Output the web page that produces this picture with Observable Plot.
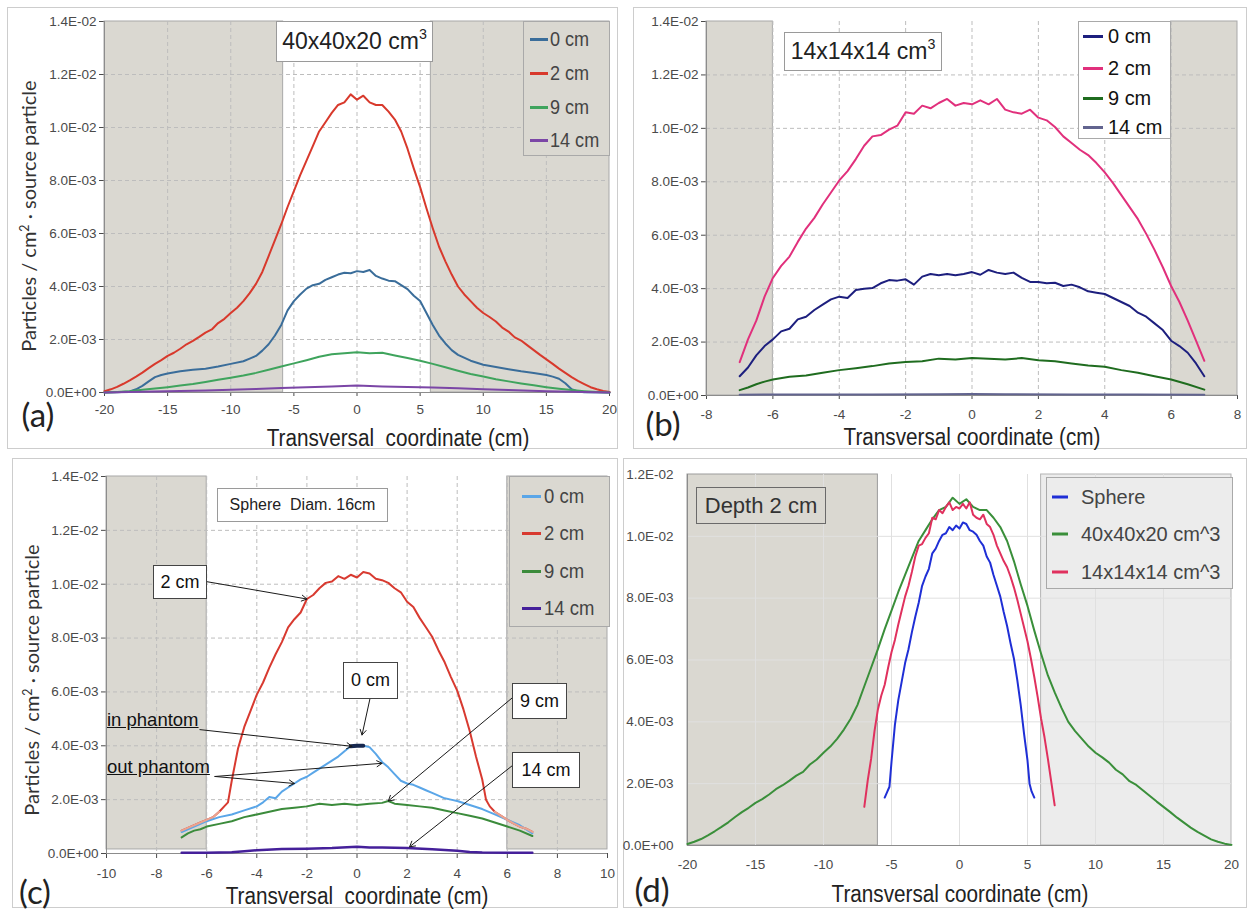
<!DOCTYPE html>
<html><head><meta charset="utf-8">
<script src="https://cdn.jsdelivr.net/npm/d3@7"></script>
<script src="https://cdn.jsdelivr.net/npm/@observablehq/plot@0.6"></script>
<style>
html,body{margin:0;padding:0;background:#fff;}
#wrap{position:relative;width:1250px;height:909px;overflow:hidden;background:#fff;}
#wrap svg text{font-size:13.5px;font-family:'Liberation Sans',Arial,sans-serif;fill:#4a4a4a;}
.abs{position:absolute;box-sizing:border-box;}
.pb{border:1px solid #cdcdcd;}
.nar{font-family:'Liberation Sans Narrow','Arial Narrow','Liberation Sans',Arial,sans-serif;}
.reg{font-family:'Liberation Sans',Arial,sans-serif;}
.cal{font-family:Lato,'Open Sans',sans-serif;}
.leg{border:1px solid #a9a9a9;}
.row{position:absolute;display:flex;align-items:center;white-space:nowrap;transform:translateY(-50%);}
.sw{display:inline-block;height:3px;flex:none;}
.tx{display:inline-block;transform-origin:0 50%;}
.box{display:flex;align-items:center;justify-content:center;white-space:nowrap;color:#222;}
.ctr{transform:translate(-50%,-50%);white-space:nowrap;line-height:1;}
.ctrn{transform:translate(-50%,-50%) scaleX(0.9);white-space:nowrap;line-height:1;}
.ylab{transform:translate(-50%,-50%) rotate(-90deg);white-space:nowrap;line-height:1;}
.sp{font-size:0.62em;position:relative;top:-0.55em;}
</style></head><body><div id="wrap"></div>
<script>
// ---------- DATA (values in units of 1E-03 particles / cm² · source particle) ----------
const cube40_0cm = [[-20,0.0],[-19,0.01],[-18,0.04],[-17.5,0.12],[-17,0.25],[-16.5,0.42],[-16,0.58],[-15.5,0.66],[-15,0.72],[-14,0.8],[-13,0.86],[-12,0.9],[-11,0.98],[-10,1.08],[-9,1.18],[-8.5,1.28],[-8,1.38],[-7.5,1.58],[-7,1.82],[-6.5,2.15],[-6,2.55],[-5.5,3.1],[-5,3.45],[-4.5,3.7],[-4,3.92],[-3.5,4.05],[-3,4.1],[-2.5,4.25],[-2,4.35],[-1.5,4.45],[-1,4.52],[-0.5,4.5],[0,4.58],[0.5,4.55],[1,4.62],[1.5,4.4],[2,4.3],[2.5,4.22],[3,4.2],[3.5,4.05],[4,3.9],[4.5,3.65],[5,3.45],[5.5,3.0],[6,2.55],[6.5,2.15],[7,1.85],[7.5,1.6],[8,1.42],[9,1.2],[10,1.05],[11,0.96],[12,0.88],[13,0.8],[14,0.74],[15,0.66],[15.5,0.6],[16,0.52],[16.5,0.35],[17,0.12],[17.5,0.04],[18,0.01],[20,0.0]];
const cube40_2cm = [[-20,0.05],[-19.5,0.12],[-19,0.21],[-18.5,0.33],[-18,0.46],[-17.5,0.6],[-17,0.75],[-16.5,0.92],[-16,1.08],[-15.5,1.22],[-15,1.38],[-14.5,1.5],[-14,1.65],[-13.5,1.82],[-13,1.95],[-12.5,2.1],[-12,2.26],[-11.5,2.38],[-11,2.62],[-10.5,2.78],[-10,3.0],[-9.5,3.2],[-9,3.45],[-8.5,3.75],[-8,4.1],[-7.5,4.55],[-7,5.15],[-6.5,5.75],[-6,6.35],[-5.5,7.0],[-5,7.6],[-4.5,8.2],[-4,8.75],[-3.5,9.3],[-3,9.85],[-2.5,10.2],[-2,10.55],[-1.5,10.85],[-1,10.95],[-0.5,11.25],[0,11.05],[0.5,11.2],[1,10.95],[1.5,10.85],[2,10.85],[2.5,10.6],[3,10.3],[3.5,9.85],[4,9.2],[4.5,8.45],[5,7.75],[5.5,6.95],[6,6.2],[6.5,5.5],[7,4.95],[7.5,4.45],[8,4.0],[8.5,3.7],[9,3.45],[9.5,3.2],[10,3.0],[10.5,2.85],[11,2.68],[11.5,2.45],[12,2.3],[12.5,2.08],[13,1.96],[13.5,1.78],[14,1.6],[14.5,1.42],[15,1.25],[15.5,1.08],[16,0.9],[16.5,0.74],[17,0.58],[17.5,0.44],[18,0.32],[18.5,0.2],[19,0.12],[19.5,0.06],[20,0.02]];
const cube40_9cm = [[-20,0.0],[-19,0.02],[-18,0.05],[-17,0.1],[-16,0.15],[-15,0.2],[-14,0.26],[-13,0.32],[-12,0.4],[-11,0.48],[-10,0.56],[-9,0.64],[-8,0.74],[-7,0.86],[-6,0.98],[-5,1.1],[-4,1.22],[-3,1.35],[-2,1.44],[-1,1.48],[0,1.52],[1,1.48],[2,1.5],[3,1.4],[4,1.3],[5,1.2],[6,1.08],[7,0.95],[8,0.82],[9,0.7],[10,0.6],[11,0.5],[12,0.42],[13,0.34],[14,0.27],[15,0.2],[16,0.14],[17,0.09],[18,0.05],[19,0.02],[20,0.0]];
const cube40_14cm = [[-20,0],[-18,0.02],[-15,0.05],[-12,0.08],[-10,0.1],[-8,0.13],[-6,0.17],[-4,0.2],[-2,0.23],[0,0.26],[2,0.23],[4,0.21],[6,0.19],[8,0.16],[10,0.12],[12,0.09],[15,0.05],[18,0.02],[20,0]];

const cube14_0cm = [[-7,0.72],[-6.75,1.05],[-6.5,1.5],[-6.25,1.85],[-6,2.1],[-5.75,2.4],[-5.5,2.5],[-5.25,2.85],[-5,2.95],[-4.75,3.2],[-4.5,3.4],[-4.25,3.6],[-4,3.7],[-3.75,3.65],[-3.5,3.95],[-3.25,4.0],[-3,4.02],[-2.75,4.2],[-2.5,4.32],[-2.25,4.3],[-2,4.35],[-1.75,4.15],[-1.5,4.45],[-1.25,4.55],[-1,4.5],[-0.75,4.55],[-0.5,4.5],[-0.25,4.55],[0,4.62],[0.25,4.52],[0.5,4.7],[0.75,4.6],[1,4.55],[1.25,4.6],[1.5,4.4],[1.75,4.25],[2,4.25],[2.25,4.2],[2.5,4.22],[2.75,4.1],[3,4.15],[3.25,4.05],[3.5,3.9],[3.75,3.85],[4,3.8],[4.25,3.65],[4.5,3.5],[4.75,3.35],[5,3.1],[5.25,2.95],[5.5,2.7],[5.75,2.45],[6,2.05],[6.25,1.85],[6.5,1.6],[6.75,1.2],[7,0.72]];
const cube14_2cm = [[-7,1.25],[-6.75,2.1],[-6.5,2.8],[-6.25,3.7],[-6,4.4],[-5.75,4.85],[-5.5,5.2],[-5.25,5.75],[-5,6.25],[-4.75,6.65],[-4.5,7.15],[-4.25,7.6],[-4,8.05],[-3.75,8.4],[-3.5,8.85],[-3.25,9.35],[-3,9.7],[-2.75,9.75],[-2.5,9.95],[-2.25,10.1],[-2,10.6],[-1.75,10.55],[-1.5,10.85],[-1.25,10.75],[-1,10.95],[-0.75,11.1],[-0.5,10.85],[-0.25,10.95],[0,10.9],[0.25,11.05],[0.5,10.9],[0.75,11.1],[1,10.7],[1.25,10.6],[1.5,10.55],[1.75,10.7],[2,10.4],[2.25,10.3],[2.5,10.05],[2.75,9.7],[3,9.45],[3.25,9.2],[3.5,9.0],[3.75,8.7],[4,8.35],[4.25,7.95],[4.5,7.5],[4.75,7.05],[5,6.6],[5.25,6.05],[5.5,5.45],[5.75,4.8],[6,4.1],[6.25,3.5],[6.5,2.8],[6.75,2.05],[7,1.3]];
const cube14_9cm = [[-7,0.2],[-6.75,0.3],[-6.5,0.42],[-6.25,0.52],[-6,0.6],[-5.5,0.7],[-5,0.75],[-4.5,0.85],[-4,0.95],[-3.5,1.02],[-3,1.1],[-2.5,1.2],[-2,1.25],[-1.5,1.28],[-1,1.38],[-0.5,1.35],[0,1.4],[0.5,1.38],[1,1.35],[1.5,1.4],[2,1.32],[2.5,1.28],[3,1.2],[3.5,1.12],[4,1.08],[4.5,0.95],[5,0.85],[5.5,0.72],[6,0.6],[6.5,0.42],[7,0.22]];
const cube14_14cm = [[-7,0.03],[-5,0.04],[-3,0.04],[-1,0.05],[0,0.06],[1,0.05],[3,0.04],[5,0.04],[7,0.03]];

const sphere_0cm = [[-7,0.8],[-6.75,0.9],[-6.5,1.0],[-6.25,1.1],[-6,1.2],[-5.5,1.35],[-5,1.45],[-4.5,1.6],[-4,1.75],[-3.75,1.9],[-3.5,2.1],[-3.25,2.05],[-3,2.3],[-2.75,2.45],[-2.5,2.6],[-2.25,2.75],[-2,2.85],[-1.75,3.0],[-1.5,3.15],[-1.25,3.3],[-1,3.45],[-0.75,3.6],[-0.5,3.8],[-0.25,3.98],[0,4.0],[0.25,4.0],[0.5,3.95],[0.75,3.7],[1,3.4],[1.25,3.2],[1.5,2.95],[1.75,2.7],[2,2.6],[2.25,2.55],[2.5,2.45],[2.75,2.35],[3,2.25],[3.25,2.15],[3.5,2.05],[3.75,2.0],[4,1.95],[4.5,1.8],[5,1.65],[5.5,1.45],[6,1.25],[6.5,1.05],[7,0.75]];
const sphere_2cm = [[-7,0.85],[-6.75,0.95],[-6.5,1.05],[-6.25,1.15],[-6,1.25],[-5.75,1.35],[-5.5,1.55],[-5.3,1.75],[-5.15,1.9],[-5,2.7],[-4.75,3.9],[-4.5,4.7],[-4.25,5.3],[-4,5.9],[-3.75,6.35],[-3.5,6.9],[-3.25,7.4],[-3,7.85],[-2.75,8.4],[-2.5,8.7],[-2.25,8.95],[-2,9.45],[-1.75,9.6],[-1.5,9.85],[-1.25,10.05],[-1,10.1],[-0.75,10.3],[-0.5,10.2],[-0.25,10.35],[0,10.25],[0.25,10.45],[0.5,10.4],[0.75,10.2],[1,10.15],[1.25,10.05],[1.5,9.85],[1.75,9.7],[2,9.35],[2.25,9.15],[2.5,8.75],[2.75,8.4],[3,8.05],[3.25,7.55],[3.5,7.1],[3.75,6.55],[4,6.05],[4.25,5.35],[4.5,4.55],[4.75,3.6],[5,2.75],[5.15,2.0],[5.3,1.75],[5.5,1.55],[5.75,1.4],[6,1.25],[6.25,1.12],[6.5,1.0],[6.75,0.92],[7,0.8]];
const sphere_9cm = [[-7,0.6],[-6.75,0.75],[-6.5,0.85],[-6.25,0.9],[-6,1.0],[-5.5,1.1],[-5,1.2],[-4.5,1.35],[-4,1.45],[-3.5,1.55],[-3,1.65],[-2.5,1.7],[-2,1.75],[-1.5,1.85],[-1,1.8],[-0.5,1.85],[0,1.8],[0.5,1.85],[1,1.88],[1.25,1.95],[1.5,1.85],[2,1.8],[2.5,1.75],[3,1.7],[3.5,1.6],[4,1.5],[4.5,1.4],[5,1.3],[5.5,1.15],[6,1.0],[6.5,0.85],[7,0.65]];
const sphere_14cm = [[-7,0.03],[-6,0.03],[-5,0.05],[-4.5,0.08],[-4,0.12],[-3,0.17],[-2,0.18],[-1,0.2],[0,0.25],[0.5,0.22],[1,0.22],[2,0.2],[3,0.16],[4,0.1],[4.5,0.06],[5,0.04],[6,0.03],[7,0.03]];

const depthLabels = ["0 cm","2 cm","9 cm","14 cm"];
const phantomLabels = ["Sphere","40x40x20 cm^3","14x14x14 cm^3"];
const xTicks20 = [-20,-15,-10,-5,0,5,10,15,20];
const xTicks8 = [-8,-6,-4,-2,0,2,4,6,8];
const xTicks10 = [-10,-8,-6,-4,-2,0,2,4,6,8,10];
const yTicks14 = [0,2,4,6,8,10,12,14].map(v=>v*1e-3);
const yTicks12 = [0,2,4,6,8,10,12].map(v=>v*1e-3);
const sphereRadius = 5.5;
const inPhantomRange = [-0.25,0.25];

// ---------- helpers ----------
const wrap = document.getElementById("wrap");
const fmtE = d => { const [m,e] = d.toExponential(1).split("e"); const n=+e; return m+"E"+(n<0?"-":"+")+String(Math.abs(n)).padStart(2,"0"); };
const rows = pts => pts.map(([x,v]) => ({x, y: v*1e-3}));
const at = (pts, x) => { const p = pts.find(q => q[0]===x); return [p[0], p[1]]; };
function add(html, cls, style){ const d=document.createElement("div"); d.className="abs "+(cls||""); Object.assign(d.style, style); d.innerHTML=html; wrap.appendChild(d); return d; }

function panel(o){
  const marks = [];
  for (const s of o.shades) marks.push(Plot.rect([s], {x1:"x1",x2:"x2",y1:"y1",y2:"y2",fill:s.fill,stroke:s.stroke,strokeWidth:1}));
  const inner = o.xt.filter(t=>t>o.xd[0] && t<o.xd[1]);
  marks.push(Plot.ruleX(inner, {stroke:o.gridColor, strokeWidth:1, strokeDasharray:o.dash}));
  marks.push(Plot.ruleY(o.yt.filter(t=>t>0 && t<o.yd[1]), {stroke:o.gridColor, strokeWidth:1, strokeDasharray:o.dash}));
  marks.push(Plot.ruleX([o.xd[0]], {stroke:"#8c8c8c"}));
  marks.push(Plot.ruleY([0], {stroke:"#8c8c8c"}));
  for (const s of o.series) marks.push(Plot.line(rows(s.pts), {x:"x", y:"y", stroke:s.color, strokeWidth:s.sw||2, strokeLinejoin:"round"}));
  if (o.extra) marks.push(...o.extra);
  const svg = Plot.plot({
    width:o.w, height:o.h, marginLeft:o.ml, marginRight:o.mr, marginTop:o.mt, marginBottom:o.mb,
    style:{background:"transparent", fontFamily:"'Liberation Sans',Arial,sans-serif", fontSize:"13.5px", color:"#4a4a4a", overflow:"visible"},
    x:{domain:o.xd, ticks:o.xt, tickFormat:d=>String(d), tickSize:o.xtick, tickPadding:o.xpad, label:null, line:false},
    y:{domain:o.yd, ticks:o.yt, tickFormat:fmtE, tickSize:o.ytick, tickPadding:o.ypad, label:null, line:false},
    marks
  });
  svg.style.position="absolute"; svg.style.left=o.left+"px"; svg.style.top=o.top+"px";
  wrap.appendChild(svg);
}
function legend(box, items, font){
  const L = add("", "leg", {left:box.x+"px", top:box.y+"px", width:box.w+"px", height:box.h+"px", background:box.bg, borderColor:box.bc||"#a9a9a9"});
  items.forEach((it,i)=>{
    const r=document.createElement("div"); r.className="row "+font.cls;
    r.style.left=box.lx+"px"; r.style.top=box.rows[i]+"px"; r.style.fontSize=font.size; r.style.color=font.color;
    r.innerHTML=`<span class="sw" style="width:${box.sw}px;background:${it.color};margin-right:${box.gap}px"></span><span class="tx" style="transform:scaleX(${font.sx||1})">${it.label}</span>`;
    L.appendChild(r);
  });
}

// ---------- panel frames ----------
add("", "pb", {left:"7px", top:"7px", width:"611px", height:"442px"});
add("", "pb", {left:"633px", top:"7px", width:"614px", height:"442px"});
add("", "pb", {left:"12px", top:"458px", width:"606px", height:"450px"});
add("", "pb", {left:"623px", top:"458px", width:"624px", height:"450px"});

const GRAY="#dad8d1";

// ---------- (a) 40x40x20 ----------
const colA=["#3a6d9a","#d8392c","#3fa45d","#7b46a6"];
panel({left:0, top:0, w:620, h:455, ml:104, mr:11, mt:21, mb:63,
  xd:[-20,20], yd:[0,0.014], xt:xTicks20, yt:yTicks14, xtick:4, xpad:8, ytick:5, ypad:3,
  gridColor:"#bdbdbd", dash:"4,3",
  shades:[{x1:-20,x2:-5.85,y1:0,y2:0.014,fill:GRAY,stroke:"#a8a8a8"},{x1:5.85,x2:20,y1:0,y2:0.014,fill:GRAY,stroke:"#a8a8a8"}],
  series:[{pts:cube40_0cm,color:colA[0]},{pts:cube40_2cm,color:colA[1]},{pts:cube40_9cm,color:colA[2]},{pts:cube40_14cm,color:colA[3]}]
});
add("40x40x20 cm<span class='sp'>3</span>", "box nar", {left:"276px", top:"21px", width:"157px", height:"41px", background:"#fff", border:"1px solid #9a9a9a", fontSize:"23px"});
legend({x:523,y:21,w:87,h:135,bg:GRAY,lx:6,rows:[17,51,85,118],sw:18,gap:2}, depthLabels.map((l,i)=>({label:l,color:colA[i]})), {cls:"nar",size:"21px",color:"#444",sx:0.86});

// ---------- (b) 14x14x14 ----------
const colB=["#1d1f7e","#e1307c","#1f6c1f","#62648f"];
panel({left:620, top:0, w:630, h:455, ml:86, mr:13, mt:21, mb:60,
  xd:[-8,8], yd:[0,0.014], xt:xTicks8, yt:yTicks14, xtick:4, xpad:10, ytick:5, ypad:3,
  gridColor:"#bdbdbd", dash:"4,3",
  shades:[{x1:-8,x2:-6,y1:0,y2:0.014,fill:GRAY,stroke:"#a8a8a8"},{x1:6,x2:8,y1:0,y2:0.014,fill:GRAY,stroke:"#a8a8a8"}],
  series:[{pts:cube14_0cm,color:colB[0]},{pts:cube14_2cm,color:colB[1]},{pts:cube14_9cm,color:colB[2]},{pts:cube14_14cm,color:colB[3]}]
});
add("14x14x14 cm<span class='sp'>3</span>", "box nar", {left:"784px", top:"32px", width:"158px", height:"39px", background:"#fff", border:"1px solid #9a9a9a", fontSize:"23px"});
legend({x:1078,y:21,w:93,h:118,bg:"#fff",lx:4,rows:[14,46,76,105],sw:20,gap:5}, depthLabels.map((l,i)=>({label:l,color:colB[i]})), {cls:"reg",size:"21px",color:"#111",sx:0.95});

// ---------- (c) Sphere ----------
const colC=["#5aa6e8","#d83a30","#3b8b3b","#45209a"];
const tipsC = {
  c2: at(sphere_2cm,-2), c9: at(sphere_9cm,1.25), c14: at(sphere_14cm,2), in0: at(sphere_0cm,-0.25), out1: at(sphere_0cm,1), out2: at(sphere_0cm,-2.5)
};
const arrowsC = [
  {x1:-6.03,y1:10.1,x2:tipsC.c2[0],y2:tipsC.c2[1]},
  {x1:0.52,y1:5.76,x2:0.2,y2:4.4},
  {x1:6.21,y1:5.79,x2:tipsC.c9[0],y2:tipsC.c9[1]},
  {x1:6.21,y1:3.27,x2:tipsC.c14[0]+0.1,y2:tipsC.c14[1]+0.05},
  {x1:-6.27,y1:4.6,x2:tipsC.in0[0]+0.05,y2:tipsC.in0[1]},
  {x1:-5.67,y1:2.86,x2:tipsC.out1[0],y2:tipsC.out1[1]-0.05},
  {x1:-5.67,y1:2.86,x2:tipsC.out2[0],y2:tipsC.out2[1]}
].map(d=>({x1:d.x1,y1:d.y1*1e-3,x2:d.x2,y2:d.y2*1e-3}));
const sideRed = rows(sphere_2cm).map(d=>({...d, side: d.x<=-sphereRadius ? "L" : d.x>=sphereRadius ? "R" : null})).filter(d=>d.side);
const inSeg = rows(sphere_0cm.filter(p=>p[0]>=inPhantomRange[0] && p[0]<=inPhantomRange[1]));
panel({left:0, top:455, w:620, h:454, ml:106, mr:13, mt:21, mb:56,
  xd:[-10,10], yd:[0,0.014], xt:xTicks10, yt:yTicks14, xtick:5, xpad:10, ytick:5, ypad:3,
  gridColor:"#bdbdbd", dash:"4,3",
  shades:[{x1:-10,x2:-6,y1:0.00015,y2:0.014,fill:GRAY,stroke:"#a8a8a8"},{x1:6,x2:10,y1:0.00015,y2:0.014,fill:GRAY,stroke:"#a8a8a8"}],
  series:[{pts:sphere_2cm,color:colC[1]},{pts:sphere_0cm,color:colC[0]},{pts:sphere_9cm,color:colC[2]},{pts:sphere_14cm,color:colC[3],sw:2.5}],
  extra:[
    Plot.line(sideRed, {x:"x", y:"y", z:"side", stroke:"#eba38f", strokeWidth:2}),
    Plot.line(inSeg, {x:"x", y:"y", stroke:"#17284f", strokeWidth:4}),
    Plot.arrow(arrowsC, {x1:"x1", y1:"y1", x2:"x2", y2:"y2", stroke:"#1a1a1a", strokeWidth:1, headLength:9})
  ]
});
add("Sphere&nbsp; Diam. 16cm", "box nar", {left:"217px", top:"488px", width:"171px", height:"34px", background:"#fff", border:"1px solid #9a9a9a", fontSize:"16px"});
legend({x:509,y:476,w:101,h:151,bg:GRAY,lx:12,rows:[19,56,94,131],sw:19,gap:3}, depthLabels.map((l,i)=>({label:l,color:colC[i]})), {cls:"nar",size:"21px",color:"#444",sx:0.88});
const annBox = {background:"#fff", border:"1px solid #444", fontSize:"18px", color:"#111"};
add("2 cm", "box nar", {...annBox, left:"153px", top:"565px", width:"54px", height:"34px"});
add("0 cm", "box nar", {...annBox, left:"343px", top:"662px", width:"55px", height:"37px"});
add("9 cm", "box nar", {...annBox, left:"512px", top:"683px", width:"55px", height:"36px"});
add("14 cm", "box nar", {...annBox, left:"512px", top:"752px", width:"68px", height:"36px"});
add("in phantom", "nar", {left:"107px", top:"709px", fontSize:"18.5px", color:"#111", textDecoration:"underline", whiteSpace:"nowrap"});
add("out phantom", "nar", {left:"107px", top:"756px", fontSize:"18.5px", color:"#111", textDecoration:"underline", whiteSpace:"nowrap"});

// ---------- (d) Depth 2 cm ----------
const colD=["#1f2fd6","#3a8f3a","#e0315e"];
panel({left:620, top:455, w:630, h:454, ml:67, mr:19, mt:19, mb:64,
  xd:[-20,20], yd:[0,0.012], xt:xTicks20, yt:yTicks12, xtick:0, xpad:14, ytick:0, ypad:14,
  gridColor:"#e0e0e0", dash:null,
  shades:[{x1:-20,x2:-6,y1:0,y2:0.012,fill:GRAY,stroke:"#9c9c9c"},{x1:6,x2:20,y1:0,y2:0.012,fill:"#ececec",stroke:"#b4b4b4"}],
  series:[{pts:cube40_2cm,color:colD[1]},{pts:cube14_2cm,color:colD[2]},{pts:sphere_2cm.filter(p=>Math.abs(p[0])<=sphereRadius),color:colD[0]}]
});
add("Depth 2 cm", "box reg", {left:"696px", top:"487px", width:"130px", height:"37px", background:GRAY, border:"1px solid #6a6a6a", fontSize:"22px", color:"#333"});
legend({x:1046,y:477,w:187,h:112,bg:"#ececec",lx:5,rows:[19,56,94],sw:16,gap:13}, phantomLabels.map((l,i)=>({label:l,color:colD[i]})), {cls:"reg",size:"20px",color:"#444"});

// ---------- axis titles & panel letters ----------
const xt = {fontSize:"23px", color:"#222"};
add("Transversal&nbsp; coordinate (cm)", "nar ctrn", {...xt, left:"398px", top:"438px"});
add("Transversal coordinate (cm)", "nar ctrn", {...xt, left:"972px", top:"437px"});
add("Transversal&nbsp; coordinate (cm)", "nar ctrn", {...xt, left:"357px", top:"896px"});
add("Transversal coordinate (cm)", "nar ctrn", {...xt, left:"960px", top:"894px"});
const yl = {fontSize:"20px", color:"#333"};
add("Particles / cm<span class='sp'>2</span> · source particle", "cal ylab", {...yl, left:"28px", top:"216px"});
add("Particles / cm<span class='sp'>2</span> · source particle", "cal ylab", {...yl, left:"31px", top:"680px"});
const pl = {fontSize:"33px", color:"#222"};
add("(a)", "cal ctr", {...pl, left:"38px", top:"414px"});
add("(b)", "cal ctr", {...pl, left:"663px", top:"423px"});
add("(c)", "cal ctr", {...pl, left:"35px", top:"891px"});
add("(d)", "cal ctr", {...pl, left:"652px", top:"889px"});
</script></body></html>
